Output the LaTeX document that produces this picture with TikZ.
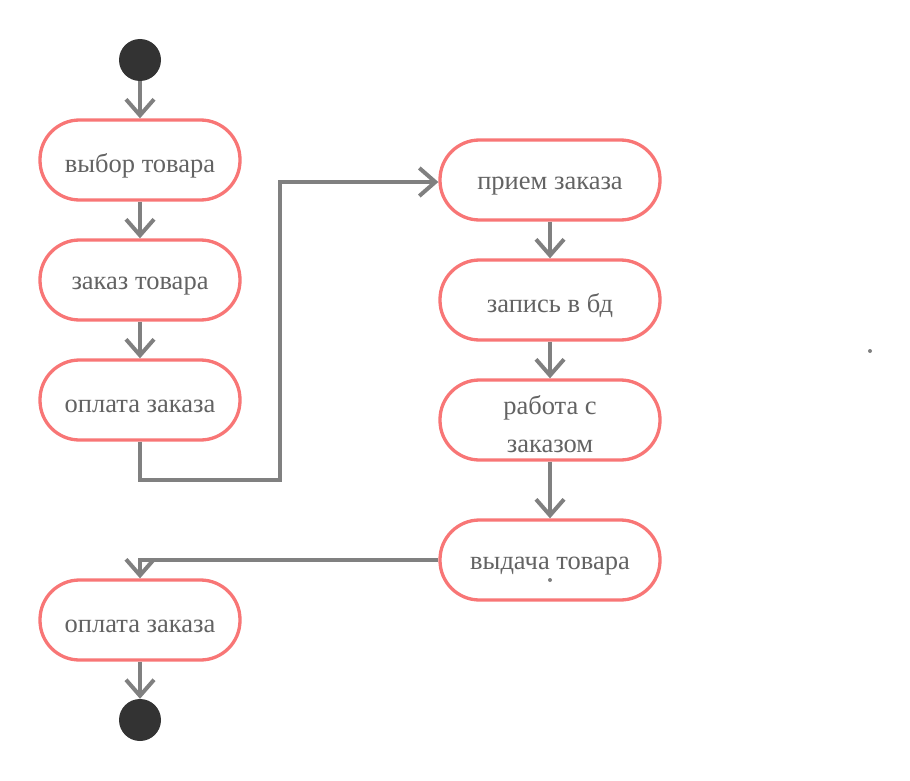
\documentclass[tikz,border=0pt]{standalone}
\usepackage{fontspec}
\setmainfont{Liberation Serif}
\usetikzlibrary{arrows.meta}
\definecolor{boxred}{HTML}{F87676}
\definecolor{linegray}{HTML}{808080}
\definecolor{textgray}{HTML}{636363}
\definecolor{dotfill}{HTML}{333333}
\newcommand\lift[1]{\raisebox{-6pt}[\height][\depth]{#1}}
\begin{document}
\begin{tikzpicture}[x=1pt,y=-1pt,
  act/.style={draw=boxred, line width=3.3pt, rounded corners=39.5pt, minimum height=80pt,
    fill=white, text=textgray, font=\fontsize{26.5}{38}\selectfont, align=center, inner sep=0pt},
  lbox/.style={act, minimum width=200pt},
  rbox/.style={act, minimum width=220pt},
  blob/.style={circle, fill=dotfill, minimum size=42pt, inner sep=0pt},
  flow/.style={draw=linegray, line width=4pt, -{Straight Barb[length=16pt,width=28pt]}}]
\useasboundingbox (0,0) rectangle (910,781);
\node[blob] (start) at (140,60) {};
\node[lbox] (n1) at (140,160) {\lift{выбор товара}};
\node[lbox] (n2) at (140,280) {\lift{заказ товара}};
\node[lbox] (n3) at (140,400) {\lift{оплата заказа}};
\node[lbox] (n4) at (140,620) {\lift{оплата заказа}};
\node[blob] (end) at (140,720) {};
\node[rbox] (r1) at (550,180) {\lift{прием заказа}};
\node[rbox] (r2) at (550,300) {\lift{запись в бд}};
\node[rbox] (r3) at (550,420) {\lift{\begin{tabular}{@{}c@{}}работа с\\заказом\end{tabular}}};
\node[rbox] (r4) at (550,560) {\lift{выдача товара}};
\draw[flow] (start) -- (n1);
\draw[flow] (n1) -- (n2);
\draw[flow] (n2) -- (n3);
\draw[flow] (n3.south) -- (140,480) -- (280,480) -- (280,182) -- ([yshift=-2pt]r1.west);
\draw[flow] (r1) -- (r2);
\draw[flow] (r2) -- (r3);
\draw[flow] (r3) -- (r4);
\draw[flow] (r4.west) -| (n4.north);
\draw[flow] (n4) -- (end);
\fill[linegray] (550,580) circle (2pt);
\fill[linegray] (870,351) circle (2pt);
\end{tikzpicture}
\end{document}
